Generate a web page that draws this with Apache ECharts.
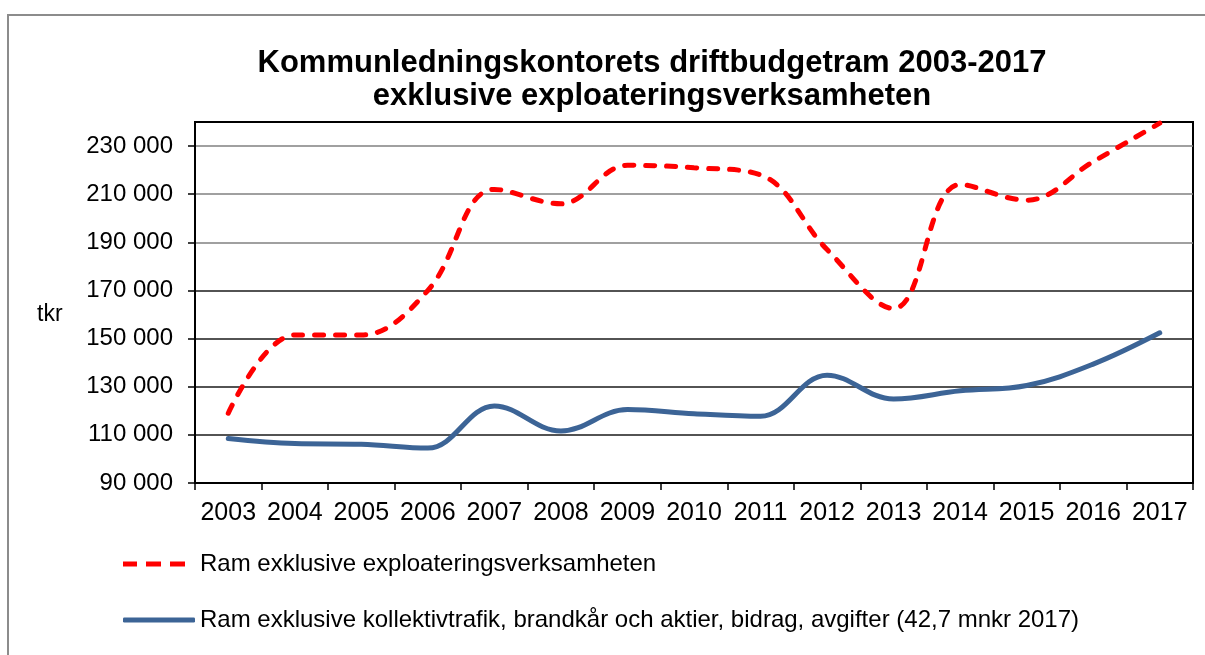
<!DOCTYPE html>
<html>
<head>
<meta charset="utf-8">
<script src="https://cdn.jsdelivr.net/npm/echarts@6/dist/echarts.min.js"></script>
<style>
html,body{margin:0;padding:0;background:#fff;}
#chart{width:1205px;height:655px;}
</style>
</head>
<body>
<div id="chart"></div>
<script>
var years = ['2003','2004','2005','2006','2007','2008','2009','2010','2011','2012','2013','2014','2015','2016','2017'];
var ramExpl = [119000, 151500, 151500, 170000, 212000, 206000, 222000, 221000, 218000, 187000, 162500, 214000, 207500, 223500, 239500];
var ramKoll = [108500, 106400, 106100, 104500, 122000, 111600, 120500, 118800, 117700, 134800, 124900, 128300, 130500, 139400, 152400];
var yTicks = [90000, 110000, 130000, 150000, 170000, 190000, 210000, 230000];
var seriesNames = ['Ram exklusive exploateringsverksamheten', 'Ram exklusive kollektivtrafik, brandkår och aktier, bidrag, avgifter (42,7 mnkr 2017)'];
var titleText = 'Kommunledningskontorets driftbudgetram 2003-2017\nexklusive exploateringsverksamheten';
var yName = 'tkr';

var FONT = '"Liberation Sans", Arial, sans-serif';
function fmt(v){
  var s = String(Math.round(v));
  return s.replace(/\B(?=(\d{3})+(?!\d))/g, ' ');
}

var chart = echarts.init(document.getElementById('chart'), null, {renderer:'canvas'});
chart.setOption({
  animation: false,
  backgroundColor: '#fff',
  title: {
    text: titleText,
    left: 647,
    top: 42,
    textAlign: 'center',
    textStyle: {fontFamily: FONT, fontSize: 31, fontWeight: 'bold', color: '#000', lineHeight: 33}
  },
  graphic: [
    {type:'rect', shape:{x:8, y:15, width:1400, height:900}, style:{fill:'none', stroke:'#8c8c8c', lineWidth:2}, silent:true, z:-1},
    {type:'text', left: 37, top: 303, style:{text: yName, font: '23px ' + FONT, fill:'#000'}}
  ],
  grid: {left:195, top:122, right:12, bottom:172, show:true, borderColor:'#000', borderWidth:2, backgroundColor:'transparent'},
  legend: [
    {data:[{name: seriesNames[0], icon: 'path://M0,0h14v5h-14z M23,0h15v5h-15z M47,0h15v5h-15z'}],
     left:118, top:547, orient:'vertical', itemWidth:62, itemHeight:5,
     textStyle:{fontFamily:FONT, fontSize:24, color:'#000', padding:[0,0,0,10]}},
    {data:[{name: seriesNames[1], icon: 'roundRect'}], left:118, top:603, orient:'vertical', itemWidth:72, itemHeight:5,
     textStyle:{fontFamily:FONT, fontSize:24, color:'#000'}}
  ],
  xAxis: {
    type:'category', data: years, boundaryGap:true,
    axisLine:{show:true, lineStyle:{color:'#000', width:2}},
    axisTick:{show:true, length:7, lineStyle:{color:'#000', width:1.5}},
    axisLabel:{fontFamily:FONT, fontSize:25, color:'#000', margin:18, interval:0},
    splitLine:{show:false}
  },
  yAxis: {
    type:'value', min:90000, max:240000, interval:20000,
    axisLine:{show:true, lineStyle:{color:'#000', width:2}},
    axisTick:{show:true, length:7, customValues: yTicks, lineStyle:{color:'#000', width:1.5}},
    axisLabel:{fontFamily:FONT, fontSize:24, color:'#000', margin:22, customValues: yTicks,
      formatter:function(v){ return fmt(v); }},
    splitLine:{show:true, lineStyle:{color:['#000','#1a1a1a','#1a1a1a','#1a1a1a','#1a1a1a','#808080','#808080','#808080','#000'], width:1.5}}
  },
  series: [
    {name: seriesNames[0], type:'line', data: ramExpl, smooth:0.38, symbol:'none',
     lineStyle:{color:'#ff0000', width:5, type:[9,12], cap:'round'}, itemStyle:{color:'#ff0000'}, z:3},
    {name: seriesNames[1], type:'line', data: ramKoll, smooth:0.38, symbol:'none',
     lineStyle:{color:'#3c6496', width:5, cap:'round'}, itemStyle:{color:'#3c6496'}, z:2}
  ]
});
</script>
</body>
</html>
